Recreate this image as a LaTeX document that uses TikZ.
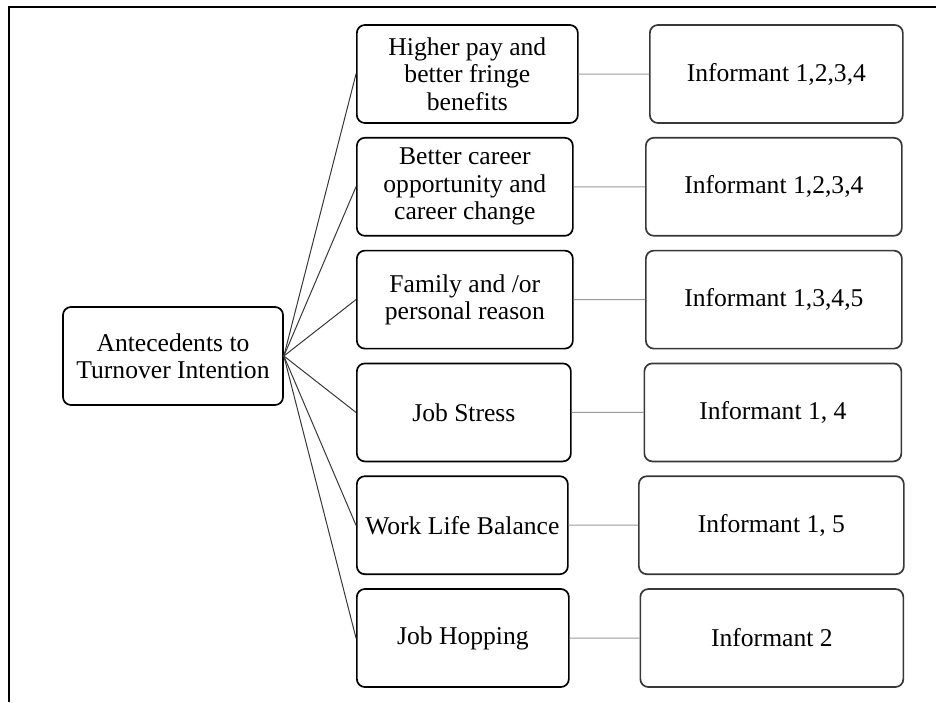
\documentclass[tikz,border=0pt]{standalone}
\usepackage{fontspec}
\setmainfont{Liberation Serif}
\begin{document}
\begin{tikzpicture}[
  grow'=right,
  parent anchor=east, child anchor=west,
  level 1/.style={sibling distance=112.8pt, level distance=183pt},
  level 2/.style={level distance=309pt,
    edge from parent/.style={draw=black!40, line width=1pt}},
  every node/.style={rectangle, rounded corners=8pt, draw, line width=1.7pt,
    minimum height=98pt, align=center, inner sep=2pt,
    font=\fontsize{25.6}{27.5}\selectfont},
  edge from parent/.style={draw=black!78, line width=1pt}
]
\useasboundingbox (0,0) rectangle (939pt,-702pt);
\draw[line width=1.8pt] (9pt,-702pt) -- (9pt,-7pt) -- (936pt,-7pt);
\node[minimum width=220pt] (root) at (173pt,-356pt) {Antecedents to\\Turnover Intention}
  child { node[anchor=west, minimum width=221pt] (pay) {Higher pay and\\better fringe\\benefits}
    child { node[minimum width=253pt] (pay-inf) {Informant 1,2,3,4} }
  }
  child { node[anchor=west, minimum width=216pt] (career) {Better career\\opportunity and\\career change}
    child { node[minimum width=256pt] (career-inf) {Informant 1,2,3,4} }
  }
  child { node[anchor=west, minimum width=216pt] (family) {Family and /or\\personal reason}
    child { node[minimum width=256pt] (family-inf) {Informant 1,3,4,5} }
  }
  child { node[anchor=west, minimum width=214pt] (stress) {Job Stress}
    child { node[minimum width=257pt] (stress-inf) {Informant 1, 4} }
  }
  child { node[anchor=west, minimum width=211pt] (balance) {Work Life Balance}
    child { node[minimum width=265pt] (balance-inf) {Informant 1, 5} }
  }
  child { node[anchor=west, minimum width=212pt] (hopping) {Job Hopping}
    child { node[minimum width=263pt] (hopping-inf) {Informant 2} }
  };
\end{tikzpicture}
\end{document}
